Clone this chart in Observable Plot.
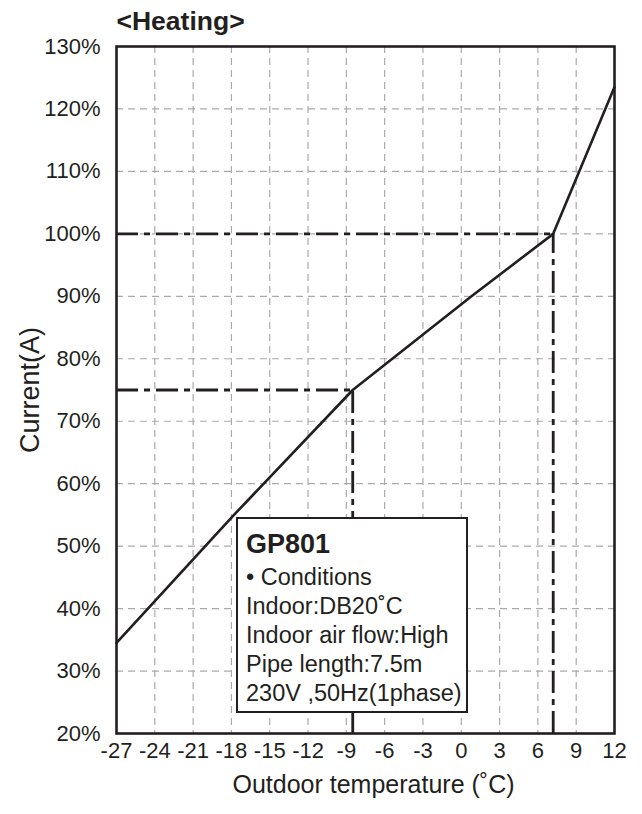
<!DOCTYPE html>
<html>
<head>
<meta charset="utf-8">
<script src="https://cdn.jsdelivr.net/npm/d3@7"></script>
<script src="https://cdn.jsdelivr.net/npm/@observablehq/plot@0.6"></script>
<style>
  html, body { margin: 0; padding: 0; background: #fff; }
  #wrap { position: relative; width: 642px; height: 814px; font-family: "Liberation Sans", Arial, Helvetica, sans-serif; }
  #box { position: absolute; left: 236px; top: 517px; width: 228px; height: 192px; border: 2.5px solid #231f20; background: #fff; color: #231f20; box-sizing: content-box; }
  #box .t { position: absolute; left: 8px; white-space: nowrap; font-size: 23.5px; line-height: 24px; }
  #box .b { font-weight: bold; font-size: 27px; line-height: 28px; }
</style>
</head>
<body>
<div id="wrap"></div>
<script>
// ---- data ----
const temps   = [-27, -17.8, -8.5, 0.8, 7.2, 12];
const current = [34.5, 55, 75, 90, 100, 123.5];
const xTicks = [-27, -24, -21, -18, -15, -12, -9, -6, -3, 0, 3, 6, 9, 12];
const yTicks = [20, 30, 40, 50, 60, 70, 80, 90, 100, 110, 120, 130];
const refTemps = [-8.5, 7.2];
const refCurrent = [75, 100];
const title = "<Heating>";
const xLabel = "Outdoor temperature (˚C)";
const yLabel = "Current(A)";
const boxLines = ["GP801", "• Conditions", "Indoor:DB20˚C", "Indoor air flow:High", "Pipe length:7.5m", "230V ,50Hz(1phase)"];

const curve = temps.map((t, i) => ({t, c: current[i]}));
const refs = refTemps.map((t, i) => ({t, c: refCurrent[i]}));
const ink = "#231f20";
const dashDot = "22,6,6,6";

const chart = Plot.plot({
  width: 642,
  height: 814,
  marginTop: 46,
  marginLeft: 116,
  marginRight: 28,
  marginBottom: 81,
  style: {fontFamily: "'Liberation Sans', Arial, Helvetica, sans-serif", color: ink, background: "#fff"},
  x: {domain: [-27, 12], label: null},
  y: {domain: [20, 130], label: null},
  marks: [
    Plot.ruleX(xTicks.slice(1, -1), {stroke: "#aaa", strokeWidth: 1.2, strokeDasharray: "7,5"}),
    Plot.ruleY(yTicks.slice(1, -1), {stroke: "#aaa", strokeWidth: 1.2, strokeDasharray: "7,5"}),
    Plot.ruleY(refs, {y: "c", x1: -27, x2: "t", stroke: ink, strokeWidth: 2.8, strokeDasharray: dashDot}),
    Plot.ruleX(refs, {x: "t", y1: 20, y2: "c", stroke: ink, strokeWidth: 2.8, strokeDasharray: dashDot}),
    Plot.line(curve, {x: "t", y: "c", stroke: ink, strokeWidth: 2.6}),
    Plot.frame({stroke: ink, strokeWidth: 2.6}),
    Plot.axisX({ticks: xTicks, tickSize: 0, tickPadding: 9, fontSize: 22, tickFormat: d => String(d), label: null}),
    Plot.axisY({ticks: yTicks, tickSize: 0, tickPadding: 16, fontSize: 22, tickFormat: d => d + "%", label: null}),
    Plot.text([title], {frameAnchor: "top-left", lineAnchor: "middle", dy: -25, textAnchor: "start", fontSize: 26.5, fontWeight: "bold", fill: ink}),
    Plot.text([yLabel], {frameAnchor: "left", textAnchor: "middle", dx: -86, rotate: -90, fontSize: 27, fill: ink}),
    Plot.text([xLabel], {frameAnchor: "bottom", lineAnchor: "middle", textAnchor: "middle", dy: 51, dx: 8, fontSize: 25, fill: ink})
  ]
});
const wrap = document.getElementById("wrap");
wrap.appendChild(chart);

const box = document.createElement("div");
box.id = "box";
const tops = [11, 46, 75, 104, 133, 162];
boxLines.forEach((s, i) => {
  const d = document.createElement("div");
  d.className = "t" + (i === 0 ? " b" : "");
  d.style.top = tops[i] + "px";
  d.textContent = s;
  box.appendChild(d);
});
wrap.appendChild(box);
</script>
</body>
</html>
